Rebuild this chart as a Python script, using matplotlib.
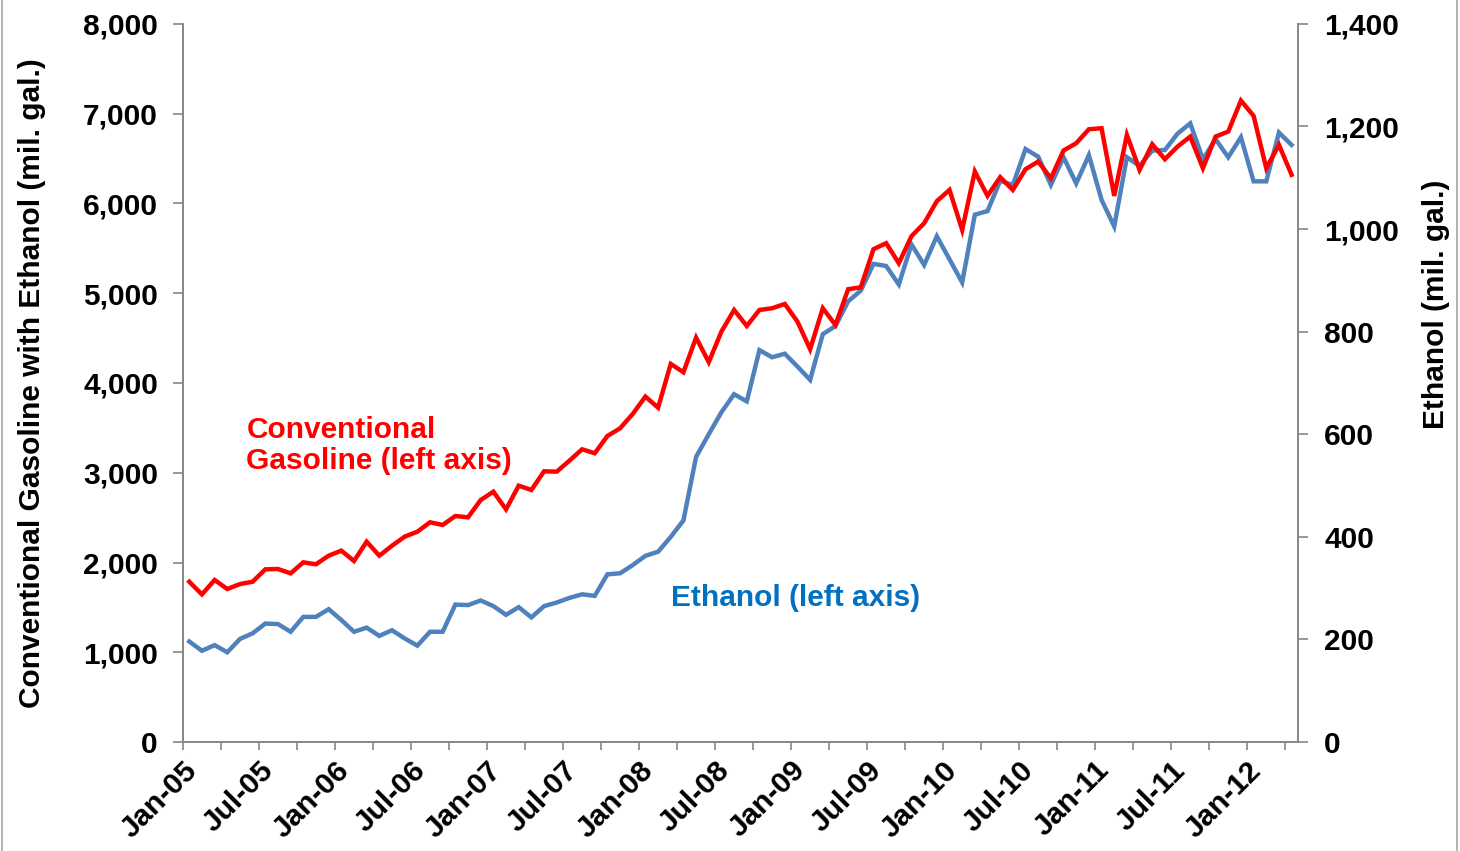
import matplotlib.pyplot as plt
import numpy as np
from matplotlib.ticker import FuncFormatter, MultipleLocator

plt.rcParams['font.family'] = ['Liberation Sans', 'DejaVu Sans']
plt.rcParams['font.weight'] = 'bold'

# monthly data, Jan-05 .. Apr-12
months = [f'{m}-{y:02d}' for y in range(5, 13) for m in
          ['Jan', 'Feb', 'Mar', 'Apr', 'May', 'Jun', 'Jul', 'Aug', 'Sep', 'Oct', 'Nov', 'Dec']][:88]

# conventional gasoline blended with ethanol (mil. gal., left axis)
gasoline = [1786, 1645, 1805, 1705, 1760, 1786, 1924, 1928, 1879, 2002, 1980, 2076,
            2132, 2017, 2232, 2076, 2187, 2288, 2343, 2448, 2418, 2518, 2503, 2696,
            2789, 2592, 2856, 2808, 3016, 3012, 3134, 3261, 3217, 3409, 3495, 3655,
            3848, 3725, 4212, 4119, 4505, 4232, 4572, 4813, 4635, 4813, 4832, 4880,
            4683, 4375, 4832, 4646, 5044, 5066, 5490, 5557, 5334, 5635, 5779, 6025,
            6150, 5705, 6355, 6084, 6292, 6150, 6381, 6466, 6280, 6589, 6670, 6826,
            6837, 6084, 6763, 6373, 6659, 6492, 6633, 6744, 6392, 6744, 6800, 7145,
            6975, 6392, 6652, 6318]

# ethanol (mil. gal., right axis)
ethanol = [196, 178, 189, 175, 201, 212, 231, 230, 215, 244, 244, 259,
           238, 215, 223, 207, 218, 202, 188, 215, 215, 268, 267, 276,
           265, 248, 263, 243, 265, 272, 281, 288, 285, 327, 329, 345,
           363, 371, 400, 432, 556, 600, 643, 678, 664, 764, 750, 757,
           732, 706, 795, 811, 859, 880, 932, 928, 892, 970, 930, 986,
           941, 896, 1028, 1035, 1094, 1086, 1156, 1141, 1086, 1140, 1089, 1144,
           1057, 1005, 1140, 1123, 1153, 1154, 1186, 1206, 1136, 1175, 1140, 1179,
           1093, 1093, 1188, 1164]

x = np.arange(len(months)) + 0.5
grey = '#868686'
fs = 21.5

fig = plt.figure(figsize=(14.6, 8.51), dpi=100)
ax = fig.add_axes([0.1253, 0.128, 0.7637, 0.844])
ax2 = ax.twinx()

ax.plot(x, gasoline, color='#FF0000', lw=3.2, solid_joinstyle='miter', zorder=3)
ax2.plot(x, ethanol, color='#4F81BD', lw=3.2, solid_joinstyle='miter', zorder=2)
ax.set_zorder(2)
ax.patch.set_visible(False)

ax.set_xlim(0, len(months))
ax.set_ylim(0, 8000)
ax2.set_ylim(0, 1400)
ax.yaxis.set_major_locator(MultipleLocator(1000))
ax2.yaxis.set_major_locator(MultipleLocator(200))
fmt = FuncFormatter(lambda v, p: f'{int(v):,}')
ax.yaxis.set_major_formatter(fmt)
ax2.yaxis.set_major_formatter(fmt)

tick_pos = list(range(0, len(months), 3))
ax.set_xticks(tick_pos)
ax.set_xticklabels([months[i] if i % 6 == 0 else '' for i in tick_pos],
                   rotation=45, ha='right', rotation_mode='anchor')

for a in (ax, ax2):
    for s in a.spines.values():
        s.set_color(grey)
        s.set_linewidth(1.2)
    a.spines['top'].set_visible(False)
    a.tick_params(colors=grey, labelcolor='black', labelsize=fs, length=7, width=1.2)
ax.tick_params(axis='x', pad=4, length=6)
ax.tick_params(axis='y', pad=11)
ax2.tick_params(axis='y', pad=12)

ax.set_ylabel('Conventional Gasoline with Ethanol (mil. gal.)', fontsize=fs,
              fontweight='bold')
ax.yaxis.set_label_coords(-0.123, 0.50)
ax2.set_ylabel('Ethanol (mil. gal.)', fontsize=fs, fontweight='bold')
ax2.yaxis.set_label_coords(1.111, 0.61)

ax.text(0.057, 0.413, 'Conventional\nGasoline (left axis)', transform=ax.transAxes,
        color='#FF0000', fontsize=fs, fontweight='bold', va='center', ha='left',
        linespacing=1.17)
ax.text(0.438, 0.2, 'Ethanol (left axis)', transform=ax.transAxes,
        color='#0070C0', fontsize=fs, fontweight='bold', va='center', ha='left')

# chart area border
fig.add_artist(plt.Line2D([0.0015, 0.0015], [0, 1], color='#A6A6A6', lw=1.2))
fig.add_artist(plt.Line2D([0.998, 0.998], [0, 1], color='#A6A6A6', lw=1.2))

plt.savefig('out.png', dpi=100)
